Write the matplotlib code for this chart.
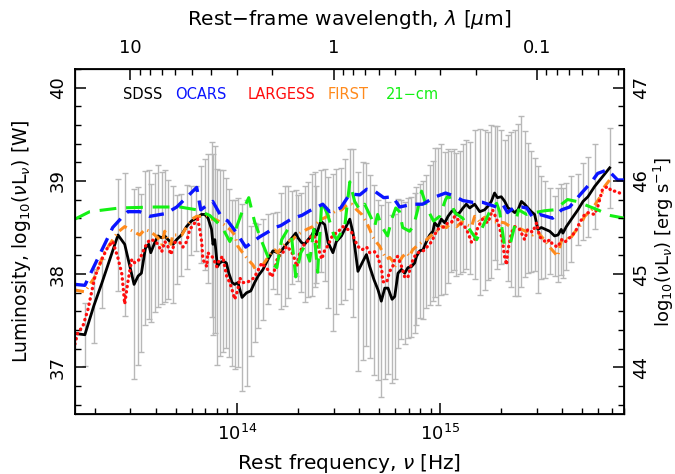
import numpy as np
import matplotlib
matplotlib.use("Agg")
import matplotlib.pyplot as plt
from matplotlib.ticker import FixedLocator, NullFormatter, LogLocator, MultipleLocator

# ---------------- data (log10 rest frequency [Hz], log10 luminosity [W]) ----------------
sdss_lognu = [13.180, 13.253, 13.297, 13.336, 13.416, 13.449, 13.495, 13.515, 13.531, 13.551,
              13.567, 13.577, 13.597, 13.613, 13.630, 13.646, 13.662, 13.687, 13.704, 13.728,
              13.753, 13.777, 13.802, 13.826, 13.843, 13.859, 13.876, 13.883, 13.892, 13.905,
              13.916, 13.933, 13.949, 13.961, 13.977, 13.990, 14.006, 14.026, 14.048, 14.069,
              14.088, 14.105, 14.129, 14.154, 14.178, 14.200, 14.220, 14.236, 14.252, 14.272,
              14.290, 14.301, 14.318, 14.334, 14.351, 14.370, 14.383, 14.392, 14.413, 14.433,
              14.449, 14.473, 14.490, 14.515, 14.531, 14.556, 14.572, 14.596, 14.621, 14.638,
              14.654, 14.675, 14.695, 14.711, 14.728, 14.744, 14.764, 14.777, 14.793, 14.810,
              14.826, 14.842, 14.859, 14.875, 14.884, 14.900, 14.916, 14.933, 14.949, 14.965,
              14.973, 14.990, 15.006, 15.023, 15.039, 15.056, 15.068, 15.080, 15.096, 15.113,
              15.129, 15.146, 15.170, 15.195, 15.219, 15.236, 15.252, 15.268, 15.282, 15.301,
              15.318, 15.334, 15.351, 15.367, 15.383, 15.400, 15.416, 15.432, 15.449, 15.465,
              15.481, 15.498, 15.518, 15.539, 15.563, 15.580, 15.596, 15.604, 15.621, 15.646,
              15.678, 15.703, 15.727, 15.760, 15.834]
sdss_L = [37.37, 37.35, 37.66, 37.90, 38.42, 38.32, 37.89, 37.98, 38.01, 38.28,
          38.32, 38.23, 38.34, 38.41, 38.39, 38.41, 38.37, 38.32, 38.37, 38.42,
          38.51, 38.57, 38.60, 38.64, 38.64, 38.60, 38.48, 38.32, 38.37, 38.08,
          38.12, 38.14, 38.12, 38.01, 37.91, 37.89, 37.91, 37.75, 37.80, 37.82,
          37.91, 37.98, 38.05, 38.16, 38.25, 38.23, 38.25, 38.30, 38.34, 38.39,
          38.44, 38.39, 38.34, 38.32, 38.37, 38.42, 38.48, 38.42, 38.57, 38.53,
          38.34, 38.23, 38.35, 38.41, 38.48, 38.59, 38.44, 38.03, 38.14, 38.21,
          38.08, 37.94, 37.83, 37.71, 37.85, 37.85, 37.73, 37.76, 38.01, 38.05,
          38.01, 38.07, 38.08, 38.12, 38.19, 38.25, 38.26, 38.35, 38.42, 38.46,
          38.55, 38.51, 38.59, 38.55, 38.62, 38.67, 38.69, 38.64, 38.66, 38.71,
          38.75, 38.71, 38.75, 38.67, 38.69, 38.73, 38.78, 38.87, 38.82, 38.83,
          38.78, 38.71, 38.69, 38.66, 38.69, 38.78, 38.75, 38.71, 38.67, 38.64,
          38.48, 38.50, 38.48, 38.46, 38.41, 38.42, 38.48, 38.44, 38.51, 38.59,
          38.69, 38.78, 38.83, 38.94, 39.14]
sdss_err = [0.34, 0.34, 0.40, 0.26, 0.60, 0.77, 1.02, 0.95, 0.85, 0.83,
            0.80, 0.74, 0.75, 0.76, 0.71, 0.71, 0.64, 0.63, 0.48, 0.44,
            0.45, 0.37, 0.35, 0.52, 0.60, 0.69, 0.94, 0.97, 1.00, 1.05,
            1.00, 0.98, 0.91, 0.90, 0.89, 0.91, 0.91, 1.00, 1.00, 0.70,
            0.64, 0.56, 0.54, 0.48, 0.41, 0.44, 0.62, 0.64, 0.60, 0.50,
            0.46, 0.46, 0.53, 0.62, 0.62, 0.65, 0.62, 0.52, 0.55, 0.60,
            0.70, 0.84, 0.78, 0.73, 0.76, 0.75, 0.90, 1.07, 1.06, 0.98,
            0.98, 1.02, 0.97, 1.03, 0.98, 0.92, 0.90, 0.88, 0.80, 0.75,
            0.76, 0.75, 0.75, 0.75, 0.74, 0.72, 0.74, 0.71, 0.75, 0.75,
            0.80, 0.84, 0.81, 0.76, 0.72, 0.65, 0.65, 0.66, 0.66, 0.69,
            0.69, 0.71, 0.80, 0.89, 0.86, 0.79, 0.82, 0.72, 0.77, 0.72,
            0.66, 0.78, 0.83, 0.89, 0.92, 0.92, 0.78, 0.70, 0.65, 0.61,
            0.68, 0.55, 0.52, 0.46, 0.43, 0.50, 0.49, 0.48, 0.47, 0.46,
            0.38, 0.41, 0.43, 0.46, 0.43]

ocars_lognu = [13.204, 13.253, 13.390, 13.440, 13.464, 13.523, 13.572, 13.651, 13.705, 13.803,
               13.823, 13.882, 13.926, 13.956, 14.000, 14.044, 14.074, 14.113, 14.152, 14.187,
               14.216, 14.275, 14.320, 14.359, 14.423, 14.457, 14.511, 14.556, 14.605, 14.639,
               14.678, 14.723, 14.767, 14.801, 14.865, 14.914, 14.978, 15.027, 15.067, 15.111,
               15.160, 15.209, 15.278, 15.308, 15.332, 15.362, 15.401, 15.426, 15.455, 15.490,
               15.553, 15.598, 15.637, 15.696, 15.745, 15.775, 15.824, 15.873, 15.907]
ocars_L = [37.89, 37.88, 38.50, 38.62, 38.67, 38.67, 38.62, 38.65, 38.72, 38.93,
           38.69, 38.78, 38.61, 38.57, 38.44, 38.29, 38.34, 38.40, 38.45, 38.50,
           38.52, 38.60, 38.63, 38.68, 38.75, 38.67, 38.71, 38.86, 38.85, 38.91,
           38.89, 38.82, 38.83, 38.72, 38.75, 38.75, 38.83, 38.87, 38.84, 38.79,
           38.77, 38.77, 38.72, 38.75, 38.66, 38.71, 38.72, 38.71, 38.61, 38.64,
           38.60, 38.69, 38.72, 38.87, 38.99, 39.08, 39.12, 39.01, 39.01]

cm21_lognu = [13.204, 13.277, 13.425, 13.597, 13.720, 13.803, 13.867, 13.926, 13.966, 13.995,
              14.025, 14.059, 14.088, 14.123, 14.162, 14.197, 14.221, 14.251, 14.270, 14.290,
              14.315, 14.334, 14.359, 14.379, 14.398, 14.418, 14.447, 14.477, 14.492, 14.531,
              14.556, 14.580, 14.605, 14.629, 14.664, 14.678, 14.693, 14.713, 14.742, 14.762,
              14.782, 14.801, 14.816, 14.850, 14.870, 14.890, 14.909, 14.939, 14.968, 14.998,
              15.027, 15.042, 15.072, 15.111, 15.145, 15.180, 15.214, 15.244, 15.278, 15.293,
              15.317, 15.347, 15.386, 15.426, 15.465, 15.514, 15.563, 15.627, 15.671, 15.775,
              15.834, 15.907]
cm21_L = [38.59, 38.67, 38.71, 38.72, 38.72, 38.69, 38.63, 38.51, 38.35, 38.48,
          38.66, 38.82, 38.56, 38.35, 38.14, 38.07, 38.37, 38.48, 38.39, 37.97,
          38.23, 38.30, 38.14, 38.48, 38.02, 38.78, 38.64, 38.42, 38.37, 38.51,
          38.99, 38.78, 38.69, 38.75, 38.59, 38.51, 38.64, 38.51, 38.41, 38.59,
          38.71, 38.67, 38.50, 38.46, 38.52, 38.69, 38.89, 38.69, 38.57, 38.62,
          38.80, 38.85, 38.66, 38.60, 38.48, 38.37, 38.53, 38.67, 38.76, 38.67,
          38.30, 38.34, 38.69, 38.64, 38.66, 38.68, 38.69, 38.80, 38.78, 38.69,
          38.63, 38.60]

first_lognu = [13.204, 13.253, 13.302, 13.351, 13.415, 13.449, 13.489, 13.523, 13.548, 13.572,
               13.597, 13.612, 13.631, 13.646, 13.661, 13.676, 13.685, 13.730, 13.754, 13.779,
               13.803, 13.853, 13.867, 13.892, 13.926, 13.951, 13.975, 13.990, 14.005, 14.029,
               14.054, 14.079, 14.098, 14.123, 14.147, 14.172, 14.187, 14.202, 14.226, 14.251,
               14.275, 14.295, 14.320, 14.344, 14.374, 14.418, 14.447, 14.482, 14.516, 14.546,
               14.565, 14.590, 14.615, 14.639, 14.654, 14.669, 14.688, 14.703, 14.718, 14.737,
               14.752, 14.767, 14.777, 14.801, 14.816, 14.836, 14.850, 14.865, 14.885, 14.909,
               14.934, 14.959, 14.983, 15.008, 15.032, 15.057, 15.082, 15.106, 15.131, 15.155,
               15.170, 15.195, 15.219, 15.244, 15.268, 15.293, 15.317, 15.352, 15.376, 15.401,
               15.431, 15.455, 15.480, 15.504, 15.524, 15.539, 15.563, 15.578, 15.598, 15.612,
               15.637, 15.662, 15.686, 15.711, 15.745, 15.770, 15.794, 15.809, 15.834, 15.848]
first_L = [37.83, 37.81, 37.97, 38.24, 38.45, 38.51, 38.46, 38.42, 38.48, 38.46,
           38.42, 38.39, 38.32, 38.46, 38.37, 38.32, 38.42, 38.42, 38.51, 38.59,
           38.62, 38.62, 38.59, 38.59, 38.55, 38.51, 38.46, 38.42, 38.30, 38.23,
           38.16, 38.10, 38.03, 38.08, 38.16, 38.24, 38.26, 38.23, 38.30, 38.35,
           38.37, 38.42, 38.45, 38.48, 38.51, 38.59, 38.62, 38.67, 38.69, 38.75,
           38.75, 38.69, 38.64, 38.55, 38.48, 38.40, 38.34, 38.30, 38.23, 38.16,
           38.18, 38.14, 38.08, 38.14, 38.19, 38.23, 38.19, 38.26, 38.30, 38.34,
           38.37, 38.42, 38.46, 38.51, 38.50, 38.56, 38.51, 38.56, 38.53, 38.51,
           38.62, 38.56, 38.61, 38.59, 38.56, 38.56, 38.55, 38.50, 38.50, 38.48,
           38.45, 38.42, 38.45, 38.39, 38.34, 38.29, 38.23, 38.19, 38.37, 38.39,
           38.37, 38.45, 38.51, 38.62, 38.69, 38.77, 38.85, 38.94, 39.01, 39.04]

largess_lognu = [13.204, 13.218, 13.243, 13.268, 13.302, 13.336, 13.366, 13.390, 13.415, 13.435,
                 13.449, 13.464, 13.484, 13.499, 13.523, 13.548, 13.572, 13.597, 13.612, 13.631,
                 13.646, 13.661, 13.676, 13.695, 13.720, 13.735, 13.754, 13.769, 13.794, 13.808,
                 13.818, 13.828, 13.833, 13.853, 13.857, 13.882, 13.902, 13.916, 13.931, 13.951,
                 13.966, 13.980, 13.990, 14.005, 14.015, 14.029, 14.049, 14.074, 14.088, 14.123,
                 14.138, 14.152, 14.172, 14.187, 14.202, 14.221, 14.246, 14.270, 14.285, 14.295,
                 14.310, 14.324, 14.344, 14.359, 14.374, 14.383, 14.398, 14.418, 14.433, 14.447,
                 14.472, 14.497, 14.521, 14.546, 14.565, 14.580, 14.595, 14.615, 14.639, 14.654,
                 14.678, 14.693, 14.713, 14.718, 14.737, 14.752, 14.767, 14.777, 14.791, 14.811,
                 14.826, 14.841, 14.860, 14.875, 14.890, 14.909, 14.924, 14.939, 14.959, 14.973,
                 14.988, 15.008, 15.023, 15.037, 15.057, 15.072, 15.086, 15.106, 15.121, 15.136,
                 15.155, 15.170, 15.185, 15.209, 15.234, 15.258, 15.278, 15.293, 15.308, 15.317,
                 15.327, 15.332, 15.352, 15.367, 15.391, 15.416, 15.431, 15.455, 15.475, 15.490,
                 15.504, 15.524, 15.539, 15.553, 15.578, 15.598, 15.612, 15.637, 15.652, 15.671,
                 15.686, 15.711, 15.725, 15.760, 15.775, 15.799, 15.824, 15.844, 15.868, 15.883]
largess_L = [37.25, 37.37, 37.44, 37.62, 37.97, 38.16, 38.29, 38.35, 38.18, 38.00,
             37.68, 37.91, 38.16, 38.12, 38.16, 38.29, 38.37, 38.36, 38.32, 38.24,
             38.35, 38.30, 38.21, 38.34, 38.34, 38.29, 38.35, 38.48, 38.55, 38.59,
             38.48, 38.34, 38.16, 38.08, 38.23, 38.18, 38.08, 38.16, 38.19, 37.97,
             37.91, 37.81, 37.73, 37.83, 37.96, 37.91, 37.91, 37.94, 37.97, 38.12,
             38.08, 38.05, 37.97, 38.05, 38.19, 38.21, 38.30, 38.24, 38.16, 38.08,
             38.23, 38.30, 38.34, 38.39, 38.42, 38.40, 38.30, 38.16, 38.26, 38.30,
             38.42, 38.45, 38.51, 38.48, 38.45, 38.37, 38.30, 38.26, 38.29, 38.23,
             38.24, 38.19, 38.05, 37.92, 37.91, 38.03, 38.08, 38.16, 38.19, 38.08,
             37.97, 37.96, 38.12, 38.19, 38.23, 38.24, 38.26, 38.30, 38.35, 38.42,
             38.48, 38.50, 38.51, 38.55, 38.56, 38.62, 38.59, 38.53, 38.51, 38.45,
             38.34, 38.37, 38.50, 38.59, 38.55, 38.69, 38.59, 38.50, 38.34, 38.19,
             38.10, 38.24, 38.45, 38.51, 38.48, 38.37, 38.48, 38.45, 38.55, 38.40,
             38.37, 38.34, 38.37, 38.32, 38.29, 38.37, 38.34, 38.39, 38.42, 38.48,
             38.55, 38.64, 38.66, 38.64, 38.72, 38.91, 38.94, 38.89, 38.89, 38.87]

legend_labels = ["SDSS", "OCARS", "LARGESS", "FIRST", "21\u2212cm"]
legend_colors = ["black", "#0a14ff", "#ff0d0d", "#ff8a1c", "#14f014"]

wavelength_ticks_um = [10, 1, 0.1]
wavelength_tick_labels = ["10", "1", "0.1"]

# ---------------- figure ----------------
plt.rcParams['font.family'] = ['DejaVu Sans']
plt.rcParams['mathtext.fontset'] = 'dejavusans'

fig = plt.figure(figsize=(6.75, 4.74), dpi=100)
ax = fig.add_axes([0.111, 0.1266, 0.813, 0.7278])

nu = lambda lg: 10.0 ** np.asarray(lg)

ax.errorbar(nu(sdss_lognu), sdss_L, yerr=sdss_err, fmt='none', ecolor='#b8b8b8',
            elinewidth=1.0, capsize=2.2, capthick=1.0, zorder=1)

ax.plot(nu(sdss_lognu), sdss_L, color='black', lw=2.0, zorder=3, solid_joinstyle='round')
ax.plot(nu(first_lognu), first_L, color=legend_colors[3], lw=2.2,
        linestyle=(0, (3.0, 1.6, 0.4, 1.6)), zorder=4)
ax.plot(nu(largess_lognu), largess_L, color=legend_colors[2], lw=2.4,
        linestyle=(0, (0.1, 1.5)), dash_capstyle='round', zorder=4)
ax.plot(nu(cm21_lognu), cm21_L, color=legend_colors[4], lw=2.2,
        linestyle=(0, (5.5, 3.2)), zorder=5)
ax.plot(nu(ocars_lognu), ocars_L, color=legend_colors[1], lw=2.4,
        linestyle=(0, (4.5, 2.6)), zorder=5)

ax.set_xscale('log')
ax.set_xlim(1.6e13, 8.0e15)
ax.set_ylim(36.5, 40.2)

ax.yaxis.set_major_locator(MultipleLocator(1))
ax.yaxis.set_minor_locator(MultipleLocator(0.2))
ax.xaxis.set_minor_locator(LogLocator(base=10, subs=np.arange(2, 10)))
ax.xaxis.set_minor_formatter(NullFormatter())

ax.tick_params(axis='both', which='major', length=8, width=1.1, direction='in', labelsize=13)
ax.tick_params(axis='both', which='minor', length=4.5, width=1.0, direction='in')
ax.tick_params(axis='x', top=False, pad=7)
ax.tick_params(axis='y', right=False, pad=6)
for lab in ax.get_yticklabels():
    lab.set_rotation(90)
    lab.set_va('center')

for s in ax.spines.values():
    s.set_linewidth(1.3)

ax.set_xlabel(r"Rest frequency, $\nu$ [Hz]", fontsize=14.5, labelpad=6)
ax.set_ylabel(r"Luminosity, log$_{10}$($\nu$L$_{\nu}$) [W]", fontsize=13.5, labelpad=11)

# top axis: wavelength
c_um = 2.998e14
ax_top = ax.twiny()
ax_top.set_xscale('log')
ax_top.set_xlim(ax.get_xlim())
ax_top.xaxis.set_major_locator(FixedLocator([c_um / w for w in wavelength_ticks_um]))
ax_top.set_xticklabels(wavelength_tick_labels)
minor_w = [k * 10.0 ** e for e in (-2, -1, 0, 1) for k in range(2, 10)]
ax_top.xaxis.set_minor_locator(FixedLocator([c_um / w for w in minor_w]))
ax_top.xaxis.set_minor_formatter(NullFormatter())
ax_top.tick_params(axis='x', which='major', length=8, width=1.1, direction='in',
                   labelsize=13, pad=9)
ax_top.tick_params(axis='x', which='minor', length=4.5, width=1.0, direction='in')
ax_top.set_xlabel(r"Rest$-$frame wavelength, $\lambda$ [$\mu$m]", fontsize=14.5, labelpad=10)

# right axis: erg/s
ax_r = ax.twinx()
ax_r.set_ylim(36.5 + 7, 40.2 + 7)
ax_r.yaxis.set_major_locator(MultipleLocator(1))
ax_r.yaxis.set_minor_locator(MultipleLocator(0.2))
ax_r.tick_params(axis='y', which='major', length=8, width=1.1, direction='in', labelsize=13, pad=6)
ax_r.tick_params(axis='y', which='minor', length=4.5, width=1.0, direction='in')
for lab in ax_r.get_yticklabels():
    lab.set_rotation(90)
    lab.set_va('center')
ax_r.set_ylabel(r"log$_{10}$($\nu$L$_{\nu}$) [erg s$^{-1}$]", fontsize=13, labelpad=1)

# legend as coloured words
x0 = 0.087
gaps = [0.095, 0.133, 0.146, 0.106]
xpos = [x0]
for g in gaps:
    xpos.append(xpos[-1] + g)
for lab, col, xp in zip(legend_labels, legend_colors, xpos):
    ax.text(xp, 0.926, lab, color=col, fontsize=10.5, transform=ax.transAxes,
            ha='left', va='center')

fig.savefig("out.png", dpi=100)
